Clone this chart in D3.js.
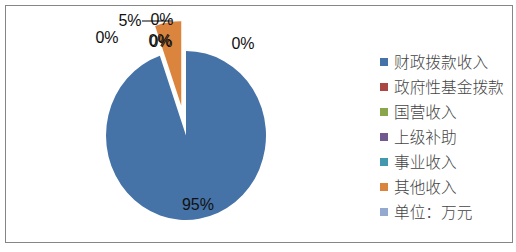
<!DOCTYPE html>
<html>
<head>
<meta charset="utf-8">
<script src="https://cdn.jsdelivr.net/npm/d3@7"></script>
<style>
  body { margin: 0; background: #fff; }
  svg { display: block; }
</style>
</head>
<body>
<svg></svg>
<script>
// pie data (万元 shares), order as in the legend
var categories = ["财政拨款收入", "政府性基金拨款", "国营收入", "上级补助", "事业收入", "其他收入", "单位：万元"];
var values = [94.7, 0, 0, 0, 0, 5.3, 0];
var colors = ["#4572A7", "#AA4643", "#89A54E", "#71588F", "#4198AF", "#DB843D", "#93A9CF"];
var exploded = [false, false, false, false, false, true, false];

// where the excel-style data labels ended up, relative to the pie centre
var labelSpot = [null, [-79, -98], [-26, -95.5], [-25, -94.5], [57, -92], [-56, -115], [-24, -116]];

var screen = { width: 516, height: 252 };
var svg = d3.select("svg")
  .attr("width", screen.width)
  .attr("height", screen.height);

svg.append("rect")
  .attr("x", 5.5).attr("y", 5.5)
  .attr("width", 507).attr("height", 237)
  .attr("fill", "none")
  .attr("stroke", "#868686")
  .attr("stroke-width", 1);

var cx = 186, cy = 135.5, r = 80, squash = 1.056;
var total = d3.sum(values);

var pie = d3.pie().sort(null).value(function(d) { return d; });
var arcs = pie(values);
var arc = d3.arc().innerRadius(0).outerRadius(r);
var labelArc = d3.arc().innerRadius(66).outerRadius(66);

var plot = svg.append("g")
  .attr("transform", "translate(" + cx + "," + cy + ") scale(1," + squash + ")");

plot.selectAll("path")
  .data(arcs)
  .enter()
  .append("path")
  .attr("d", arc)
  .attr("fill", function(d, i) { return colors[i]; })
  .attr("transform", function(d, i) {
    if (!exploded[i]) return null;
    var mid = (d.startAngle + d.endAngle) / 2;
    return "translate(" + (28.5 * Math.sin(mid)) + "," + (-28.5 * Math.cos(mid)) + ")";
  });

var pct = function(v) { return Math.round(v / total * 100) + "%"; };

var labels = svg.append("g")
  .attr("transform", "translate(" + cx + "," + cy + ")")
  .style("font-family", "'Liberation Sans', Arial, sans-serif")
  .style("font-size", "16px")
  .attr("fill", "#111");

arcs.forEach(function(d, i) {
  var p;
  if (labelSpot[i]) {
    p = labelSpot[i];
  } else {
    var c = labelArc.centroid(d);
    p = [c[0] + 1, c[1] * squash];
  }
  labels.append("text")
    .attr("x", p[0]).attr("y", p[1])
    .attr("dy", "0.35em")
    .attr("text-anchor", "middle")
    .text(pct(values[i]));
});

// leader line of the 5% label
labels.append("line")
  .attr("x1", -44).attr("x2", -14)
  .attr("y1", -114.5).attr("y2", -114.5)
  .attr("stroke", "#000")
  .attr("stroke-width", 1);

// legend
var legend = svg.append("g")
  .attr("transform", "translate(380,62)");

var item = legend.selectAll("g")
  .data(categories)
  .enter()
  .append("g")
  .attr("transform", function(d, i) { return "translate(0," + (i * 25) + ")"; });

item.append("rect")
  .attr("x", 0).attr("y", -4)
  .attr("width", 8).attr("height", 8)
  .attr("fill", function(d, i) { return colors[i]; });

item.append("text")
  .attr("x", 14)
  .attr("y", 0)
  .attr("dy", "0.36em")
  .style("font-family", "'Noto Sans CJK SC', sans-serif")
  .style("font-size", "15.7px")
  .style("font-weight", 300)
  .attr("fill", "#444")
  .text(function(d) { return d; });
</script>
</body>
</html>
